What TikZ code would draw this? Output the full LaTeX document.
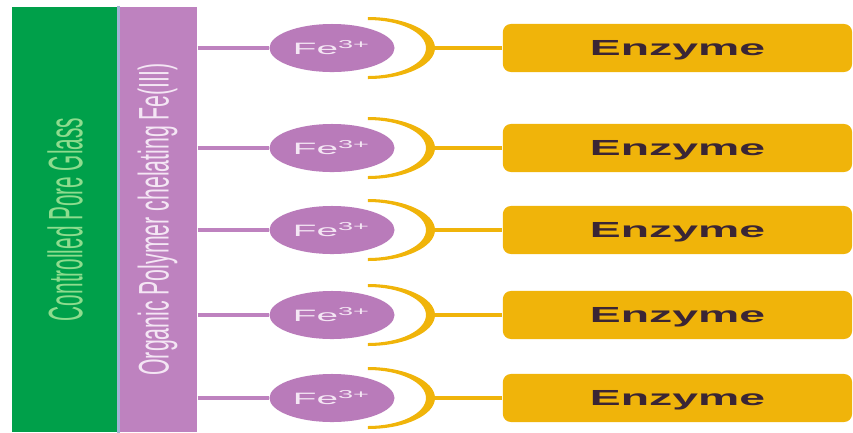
\documentclass[tikz,border=0pt]{standalone}
\usepackage{fontspec}
\setmainfont{Liberation Sans}
\usepackage{graphicx}
\usepackage{xcolor}
\usepackage{tikz}
\usetikzlibrary{shapes.geometric}
\definecolor{glassGreen}{HTML}{00A04A}
\definecolor{glassText}{HTML}{8EDC8E}
\definecolor{polyPurple}{HTML}{BE82BF}
\definecolor{polyText}{HTML}{F4E6F4}
\definecolor{ionPurple}{HTML}{B97BBA}
\definecolor{sepBlue}{HTML}{A3B3D6}
\definecolor{enzYellow}{HTML}{F0B40A}
\definecolor{enzText}{HTML}{3A2535}

\begin{document}
\begin{tikzpicture}[
    x=0.01cm, y=0.01cm,
    bar/.style={rotate=90, inner sep=0pt, minimum width=4.25cm},
    ion/.style={ellipse, fill=ionPurple, inner sep=0pt, minimum width=1.25cm, minimum height=0.48cm, text=polyText},
    enzyme/.style={rectangle, rounded corners=0.08cm, fill=enzYellow, inner sep=0pt, minimum width=3.49cm, minimum height=0.48cm, text=enzText, text depth=0pt},
    fewire/.style={line width=0.04cm, polyPurple},
    enzwire/.style={line width=0.045cm, enzYellow},
    cup/.style={fill=enzYellow},
]
    \useasboundingbox (0,0) rectangle (853,432);

    % support layers
    \node[bar, fill=glassGreen, minimum height=1.06cm, text=glassText] (glass) at (65,212.5)
        {\resizebox{2.03cm}{0.35cm}{Controlled Pore Glass}};
    \node[bar, fill=polyPurple, minimum height=0.79cm, text=polyText] (poly) at (157.5,212.5)
        {\resizebox{3.12cm}{0.31cm}{Organic Polymer chelating Fe(III)}};
    \draw[line width=0.03cm, sepBlue] (glass.south west) -- (glass.south east);

    % chelated iron
    \node[ion] (fe1) at (332,384) {\resizebox{0.78cm}{0.14cm}{Fe\textsuperscript{3+}}};
    \node[ion] (fe2) at (332,284) {\resizebox{0.78cm}{0.14cm}{Fe\textsuperscript{3+}}};
    \node[ion] (fe3) at (332,202) {\resizebox{0.78cm}{0.14cm}{Fe\textsuperscript{3+}}};
    \node[ion] (fe4) at (332,117) {\resizebox{0.78cm}{0.14cm}{Fe\textsuperscript{3+}}};
    \node[ion] (fe5) at (332,34) {\resizebox{0.78cm}{0.14cm}{Fe\textsuperscript{3+}}};

    % enzymes
    \node[enzyme] (enz1) at (677.5,384) {\resizebox{1.75cm}{0.15cm}{\bfseries Enzyme}};
    \node[enzyme] (enz2) at (677.5,284) {\resizebox{1.75cm}{0.15cm}{\bfseries Enzyme}};
    \node[enzyme] (enz3) at (677.5,202) {\resizebox{1.75cm}{0.15cm}{\bfseries Enzyme}};
    \node[enzyme] (enz4) at (677.5,117) {\resizebox{1.75cm}{0.15cm}{\bfseries Enzyme}};
    \node[enzyme] (enz5) at (677.5,34) {\resizebox{1.75cm}{0.15cm}{\bfseries Enzyme}};

    % binding cups
    \fill[cup] (368,415) arc[start angle=90, end angle=-90, x radius=67, y radius=31] -- ++(0,3)
        arc[start angle=-90, end angle=90, x radius=58, y radius=28] -- cycle;
    \fill[cup] (368,315) arc[start angle=90, end angle=-90, x radius=67, y radius=31] -- ++(0,3)
        arc[start angle=-90, end angle=90, x radius=58, y radius=28] -- cycle;
    \fill[cup] (368,233) arc[start angle=90, end angle=-90, x radius=67, y radius=31] -- ++(0,3)
        arc[start angle=-90, end angle=90, x radius=58, y radius=28] -- cycle;
    \fill[cup] (368,148) arc[start angle=90, end angle=-90, x radius=67, y radius=31] -- ++(0,3)
        arc[start angle=-90, end angle=90, x radius=58, y radius=28] -- cycle;
    \fill[cup] (368,65) arc[start angle=90, end angle=-90, x radius=67, y radius=31] -- ++(0,3)
        arc[start angle=-90, end angle=90, x radius=58, y radius=28] -- cycle;
    \coordinate (cup1) at (434,384);
    \coordinate (cup2) at (434,284);
    \coordinate (cup3) at (434,202);
    \coordinate (cup4) at (434,117);
    \coordinate (cup5) at (434,34);

    \draw[fewire] (poly.south |- fe1) -- (fe1);
    \draw[fewire] (poly.south |- fe2) -- (fe2);
    \draw[fewire] (poly.south |- fe3) -- (fe3);
    \draw[fewire] (poly.south |- fe4) -- (fe4);
    \draw[fewire] (poly.south |- fe5) -- (fe5);
    \draw[enzwire] (cup1) -- (enz1);
    \draw[enzwire] (cup2) -- (enz2);
    \draw[enzwire] (cup3) -- (enz3);
    \draw[enzwire] (cup4) -- (enz4);
    \draw[enzwire] (cup5) -- (enz5);
\end{tikzpicture}
\end{document}
